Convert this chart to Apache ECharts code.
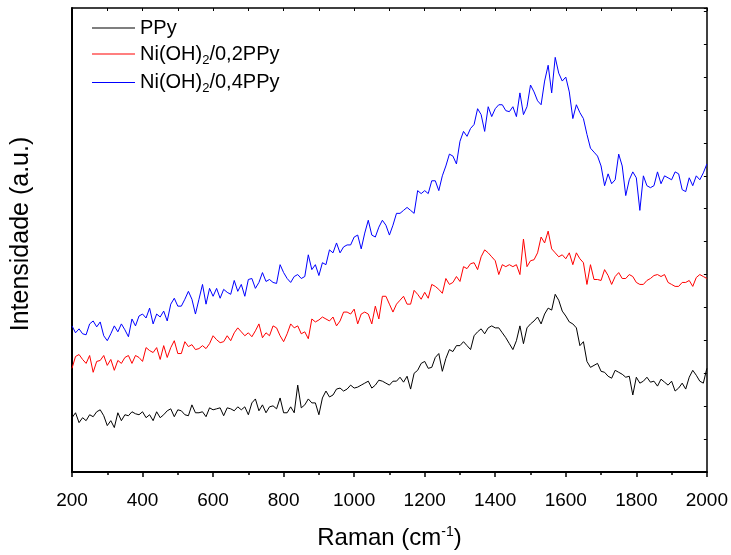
<!DOCTYPE html>
<html><head><meta charset="utf-8">
<script src="https://cdn.jsdelivr.net/npm/echarts@6/dist/echarts.min.js"></script>
<style>html,body{margin:0;padding:0;background:#fff}#c{width:731px;height:555px}</style>
</head><body><div id="c"></div>
<script>
const raman = [200,210,220,230,240,250,260,270,280,290,300,310,320,330,340,350,360,370,380,390,
400,410,420,430,440,450,460,470,480,490,500,510,520,530,540,550,560,570,580,590,
600,610,620,630,640,650,660,670,680,690,700,710,720,730,740,750,760,770,780,790,
800,810,820,830,840,850,860,870,880,890,900,910,920,930,940,950,960,970,980,990,
1000,1010,1020,1030,1040,1050,1060,1070,1080,1090,1100,1110,1120,1130,1140,1150,1160,1170,1180,1190,
1200,1210,1220,1230,1240,1250,1260,1270,1280,1290,1300,1310,1320,1330,1340,1350,1360,1370,1380,1390,
1400,1410,1420,1430,1440,1450,1460,1470,1480,1490,1500,1510,1520,1530,1540,1550,1560,1570,1580,1590,
1600,1610,1620,1630,1640,1650,1660,1670,1680,1690,1700,1710,1720,1730,1740,1750,1760,1770,1780,1790,
1800,1810,1820,1830,1840,1850,1860,1870,1880,1890,1900,1910,1920,1930,1940,1950,1960,1970,1980,1990,2000];

const ppy = [55,60,50,55,52,58,56,61,63,57,
47,52,45,60,52,58,57,61,59,58,
61,55,58,52,61,55,58,62,64,56,
63,62,58,57,68,60,60,61,56,65,
63,64,65,57,65,64,62,66,63,66,
58,70,74,62,68,60,66,67,64,75,
60,60,66,60,88,65,68,74,70,70,
58,75,82,76,78,84,85,82,84,88,
85,86,88,90,92,85,88,93,92,90,
88,92,92,96,91,97,84,100,103,110,
112,105,106,116,120,102,115,124,122,128,
128,132,128,124,138,142,145,140,146,148,
146,146,141,136,130,124,133,148,130,146,
150,153,157,150,160,166,164,180,174,163,
158,152,150,146,128,132,112,106,108,110,
102,101,97,95,103,101,99,96,97,78,
96,90,92,96,91,92,87,94,91,88,
92,82,85,90,84,96,103,98,92,90,
105];

const ni02 = [105,117,119,114,110,118,101,112,113,118,
108,114,103,113,110,116,118,110,118,116,
112,126,123,121,126,114,128,116,126,133,
120,120,132,127,129,124,125,128,125,130,
138,134,131,132,138,133,141,146,142,138,
141,137,143,150,136,141,138,148,146,138,
132,140,150,146,148,140,142,135,155,152,
154,157,155,153,157,148,153,162,162,160,
165,150,160,162,160,150,168,155,178,178,
170,162,170,174,178,170,170,184,180,175,
182,176,190,188,185,181,196,190,192,198,
193,208,206,211,212,205,218,225,222,218,
214,200,210,208,210,208,210,200,236,208,
214,215,222,238,232,244,226,222,218,220,
216,222,210,222,216,212,190,210,195,195,
194,205,199,190,198,202,196,196,200,198,
192,190,190,194,196,199,200,198,200,192,
190,188,188,192,192,194,188,197,200,198,
196];

const ni04 = [148,141,145,140,139,150,153,147,152,138,
133,140,148,142,150,144,137,155,148,158,
160,156,166,150,160,157,163,153,170,176,
168,168,175,183,175,160,175,190,170,186,
178,186,176,185,182,180,194,183,190,178,
195,196,186,192,202,193,195,192,191,210,
202,196,192,198,200,196,198,220,205,210,
199,212,210,225,222,232,222,228,230,230,
238,240,226,242,255,240,238,248,255,250,
240,250,262,262,265,268,265,262,285,282,
285,282,295,295,285,300,310,322,320,312,
335,345,340,348,352,368,362,345,370,360,
368,372,372,366,365,370,360,384,362,370,
392,385,376,372,396,412,384,420,404,396,
400,385,358,372,364,358,342,328,324,320,
310,290,302,292,296,322,310,280,296,304,
298,265,300,290,288,290,304,292,300,298,
296,304,302,286,284,298,290,300,296,303,
312];

const seriesNames = ['PPy', 'Ni(OH)2/0,2PPy', 'Ni(OH)2/0,4PPy'];
const seriesColors = ['#000000', '#ff0000', '#0000ff'];
const xTickLabels = [200,400,600,800,1000,1200,1400,1600,1800,2000];

const FONT = 'Liberation Sans, Arial, sans-serif';
const chart = echarts.init(document.getElementById('c'), null, {renderer: 'canvas'});
const values = [ppy, ni02, ni04];

const option = {
  animation: false,
  backgroundColor: '#fff',
  grid: {left: 72, right: 23, top: 8, bottom: 77, containLabel: false},
  legend: {
    orient: 'vertical', left: 92, top: 18, padding: 0, itemGap: 6,
    itemWidth: 43, itemHeight: 1, icon: 'rect',
    data: seriesNames,
    formatter: function (n) { return n.replace('(OH)2', '(OH){s|2}'); },
    textStyle: {fontFamily: FONT, fontSize: 20, color: '#000',
      rich: {s: {fontFamily: FONT, fontSize: 13, color: '#000', verticalAlign: 'bottom', padding: [12, 0, 0, 0]}}}
  },
  xAxis: [{
    type: 'value', position: 'bottom', min: 200, max: 2000, interval: 200,
    name: '{a|Raman (cm}{b|-1}{a|)}', nameLocation: 'middle', nameGap: 53,
    nameTextStyle: {rich: {
      a: {fontFamily: FONT, fontSize: 24, color: '#000'},
      b: {fontFamily: FONT, fontSize: 14, color: '#000', verticalAlign: 'top', padding: [0, 0, 12, 0]}}},
    axisLine: {show: true, onZero: false, lineStyle: {color: '#000', width: 2}},
    axisTick: {show: true, inside: false, length: 5, lineStyle: {color: '#000', width: 1.5}},
    minorTick: {show: true, splitNumber: 2, length: 3, lineStyle: {color: '#000', width: 1.5}},
    axisLabel: {fontFamily: FONT, fontSize: 19, color: '#000', margin: 19,
      formatter: function (v) { return xTickLabels.indexOf(v) >= 0 ? String(v) : ''; }},
    splitLine: {show: false}
  }, {
    type: 'value', position: 'top', min: 200, max: 2000, interval: 100,
    axisLine: {show: true, onZero: false, lineStyle: {color: '#000', width: 1.5}},
    axisTick: {show: true, inside: true, length: 3, lineStyle: {color: '#000', width: 1}},
    axisLabel: {show: false}, splitLine: {show: false}
  }],
  yAxis: [{
    type: 'value', position: 'left', min: 0, max: 470, interval: 33.3333333,
    name: 'Intensidade (a.u.)', nameLocation: 'middle', nameGap: 38, nameRotate: 90,
    nameTextStyle: {fontFamily: FONT, fontSize: 25, color: '#000', padding: [0, 0, 0, 12]},
    axisLine: {show: true, onZero: false, lineStyle: {color: '#000', width: 2}},
    axisTick: {show: false},
    axisLabel: {show: false}, splitLine: {show: false}
  }, {
    type: 'value', position: 'right', min: 0, max: 470, interval: 33.3333333,
    axisLine: {show: true, onZero: false, lineStyle: {color: '#000', width: 1.5}},
    axisTick: {show: true, inside: true, length: 3, lineStyle: {color: '#000', width: 1}},
    axisLabel: {show: false}, splitLine: {show: false}
  }],
  series: seriesNames.map(function (name, k) {
    return {
      name: name, type: 'line', xAxisIndex: 0, yAxisIndex: 0,
      showSymbol: false, symbol: 'none', smooth: false,
      lineStyle: {color: seriesColors[k], width: 1},
      itemStyle: {color: seriesColors[k]},
      data: raman.map(function (x, i) { return [x, values[k][i]]; })
    };
  })
};
chart.setOption(option);
</script>
</body></html>
